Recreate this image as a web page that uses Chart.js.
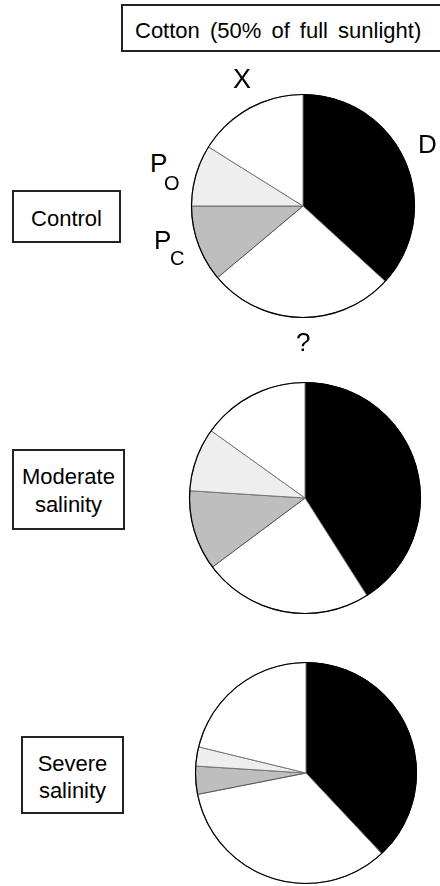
<!DOCTYPE html>
<html>
<head>
<meta charset="utf-8">
<script src="https://cdn.jsdelivr.net/npm/chart.js@4/dist/chart.umd.min.js"></script>
<style>
    html, body { margin: 0; padding: 0; background: #fff; }
    body { width: 440px; height: 886px; position: relative; overflow: hidden; font-family: 'Liberation Sans', Arial, sans-serif; color: #000; }
    canvas { position: absolute; }
    .caixa { position: absolute; border: 2px solid #222; box-sizing: border-box; text-align: center; font-size: 22px; }
    .rotulo { position: absolute; line-height: 1; white-space: nowrap; }
</style>
</head>
<body>

<div class="caixa" style="left:121px; top:4px; width:340px; height:48px; text-align:left;">
    <span style="position:absolute; left:12px; top:14px; line-height:22px; word-spacing:4px; white-space:nowrap;">Cotton (50% of full sunlight)</span>
</div>

<div class="caixa" style="left:12px; top:190px; width:109px; height:53px;">
    <div style="position:absolute; left:0; right:0; top:16px; line-height:22px;">Control</div>
</div>
<div class="caixa" style="left:12px; top:449px; width:113px; height:81px;">
    <div style="position:absolute; left:0; right:0; top:12px; line-height:28px;">Moderate<br>salinity</div>
</div>
<div class="caixa" style="left:21px; top:736px; width:103px; height:78px;">
    <div style="position:absolute; left:0; right:0; top:12px; line-height:27px;">Severe<br>salinity</div>
</div>

<canvas id="pizza1" width="260" height="260" style="left:173px; top:76px;"></canvas>
<canvas id="pizza2" width="260" height="260" style="left:175px; top:368px;"></canvas>
<canvas id="pizza3" width="260" height="260" style="left:176px; top:643px;"></canvas>

<div class="rotulo" style="left:233px; top:66px; font-size:27px;">X</div>
<div class="rotulo" style="left:418px; top:131px; font-size:26px;">D</div>
<div class="rotulo" style="left:150px; top:150px; font-size:26px;">P</div>
<div class="rotulo" style="left:164px; top:173px; font-size:20px;">O</div>
<div class="rotulo" style="left:154px; top:227px; font-size:26px;">P</div>
<div class="rotulo" style="left:170px; top:248px; font-size:20px;">C</div>
<div class="rotulo" style="left:296px; top:329px; font-size:26px;">?</div>

<script>
// fatias no sentido horario a partir do topo: D, ?, Pc, Po, X
var categorias = ['D', '?', 'Pc', 'Po', 'X'];
var controle = [36.8, 27.1, 11.1, 8.9, 16.1];
var salinidadeModerada = [41.0, 23.8, 11.2, 8.9, 15.1];
var salinidadeSevera = [38.0, 33.9, 4.1, 2.8, 21.2];

var coresFatias = ['#000000', '#ffffff', '#bebebe', '#eeeeee', '#ffffff'];
var coresBordas = ['#000000', '#777777', '#555555', '#777777', '#777777'];

// contorno preto do circulo
var contorno = {
    id: 'contorno',
    afterDatasetsDraw: function (chart) {
        var arco = chart.getDatasetMeta(0).data[0];
        var ctx = chart.ctx;
        ctx.save();
        ctx.beginPath();
        ctx.arc(arco.x, arco.y, arco.outerRadius, 0, Math.PI * 2);
        ctx.strokeStyle = '#000';
        ctx.lineWidth = 1.2;
        ctx.stroke();
        ctx.restore();
    }
};

function desenharPizza(id, valores, raio) {
    var ctx = document.getElementById(id).getContext('2d');
    return new Chart(ctx, {
        type: 'pie',
        data: {
            labels: categorias,
            datasets: [{
                data: valores,
                backgroundColor: coresFatias,
                borderColor: coresBordas,
                borderWidth: 1,
                radius: raio
            }]
        },
        options: {
            responsive: false,
            animation: false,
            layout: { padding: 0 },
            plugins: {
                legend: { display: false },
                tooltip: { enabled: false }
            }
        },
        plugins: [contorno]
    });
}

desenharPizza('pizza1', controle, 111.5);
desenharPizza('pizza2', salinidadeModerada, 115.5);
desenharPizza('pizza3', salinidadeSevera, 110.5);
</script>
</body>
</html>
